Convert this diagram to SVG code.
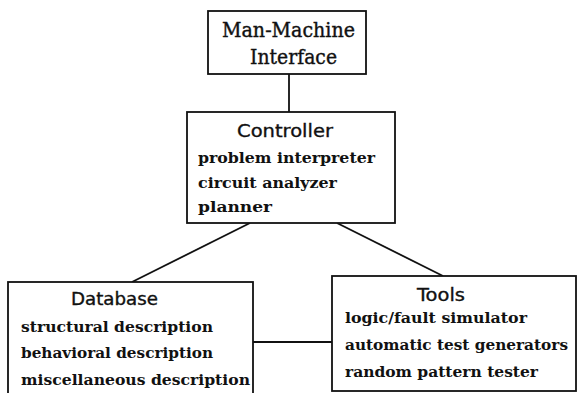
<svg xmlns="http://www.w3.org/2000/svg" width="577" height="393" viewBox="0 0 577 393">
  <style>
    .box { fill: #ffffff; stroke: #111111; stroke-width: 1.8; }
    .wire { stroke: #111111; stroke-width: 1.8; fill: none; }
    .head { font-family: "DejaVu Serif", "Liberation Serif", serif; font-size: 20px; fill: #111111; stroke: #111111; stroke-width: 0.4; }
    .title { font-family: "DejaVu Sans", "Liberation Sans", sans-serif; font-size: 17px; fill: #111111; stroke: #111111; stroke-width: 0.35; }
    .item { font-family: "DejaVu Serif", "Liberation Serif", serif; font-size: 15px; font-weight: bold; fill: #111111; }
  </style>
  <rect width="577" height="393" fill="#ffffff"/>

  <g id="connectors">
    <line class="wire" x1="289" y1="74" x2="289" y2="112"/>
    <line class="wire" x1="250" y1="223" x2="132" y2="282"/>
    <line class="wire" x1="337" y1="223" x2="443" y2="276"/>
    <line class="wire" x1="253" y1="342" x2="332" y2="342"/>
  </g>

  <g id="man-machine-interface">
    <rect class="box" x="208" y="11" width="158" height="63"/>
    <text class="head" x="222" y="37" textLength="133" lengthAdjust="spacingAndGlyphs">Man-Machine</text>
    <text class="head" x="250" y="64" textLength="87" lengthAdjust="spacingAndGlyphs">Interface</text>
  </g>

  <g id="controller">
    <rect class="box" x="187" y="112" width="208" height="111"/>
    <text class="title" x="237" y="137" textLength="96" lengthAdjust="spacingAndGlyphs">Controller</text>
    <text class="item" x="198" y="163" textLength="177" lengthAdjust="spacingAndGlyphs">problem interpreter</text>
    <text class="item" x="198" y="188" textLength="139" lengthAdjust="spacingAndGlyphs">circuit analyzer</text>
    <text class="item" x="198" y="212" textLength="74" lengthAdjust="spacingAndGlyphs">planner</text>
  </g>

  <g id="database">
    <rect class="box" x="8" y="282" width="245" height="130"/>
    <text class="title" x="71" y="305" textLength="87" lengthAdjust="spacingAndGlyphs">Database</text>
    <text class="item" x="21" y="332" textLength="192" lengthAdjust="spacingAndGlyphs">structural description</text>
    <text class="item" x="21" y="358" textLength="192" lengthAdjust="spacingAndGlyphs">behavioral description</text>
    <text class="item" x="21" y="385" textLength="229" lengthAdjust="spacingAndGlyphs">miscellaneous description</text>
  </g>

  <g id="tools">
    <rect class="box" x="332" y="276" width="244" height="115"/>
    <text class="title" x="417" y="301" textLength="48" lengthAdjust="spacingAndGlyphs">Tools</text>
    <text class="item" x="345" y="323" textLength="182" lengthAdjust="spacingAndGlyphs">logic/fault simulator</text>
    <text class="item" x="345" y="350" textLength="223" lengthAdjust="spacingAndGlyphs">automatic test generators</text>
    <text class="item" x="345" y="377" textLength="193" lengthAdjust="spacingAndGlyphs">random pattern tester</text>
  </g>
</svg>
